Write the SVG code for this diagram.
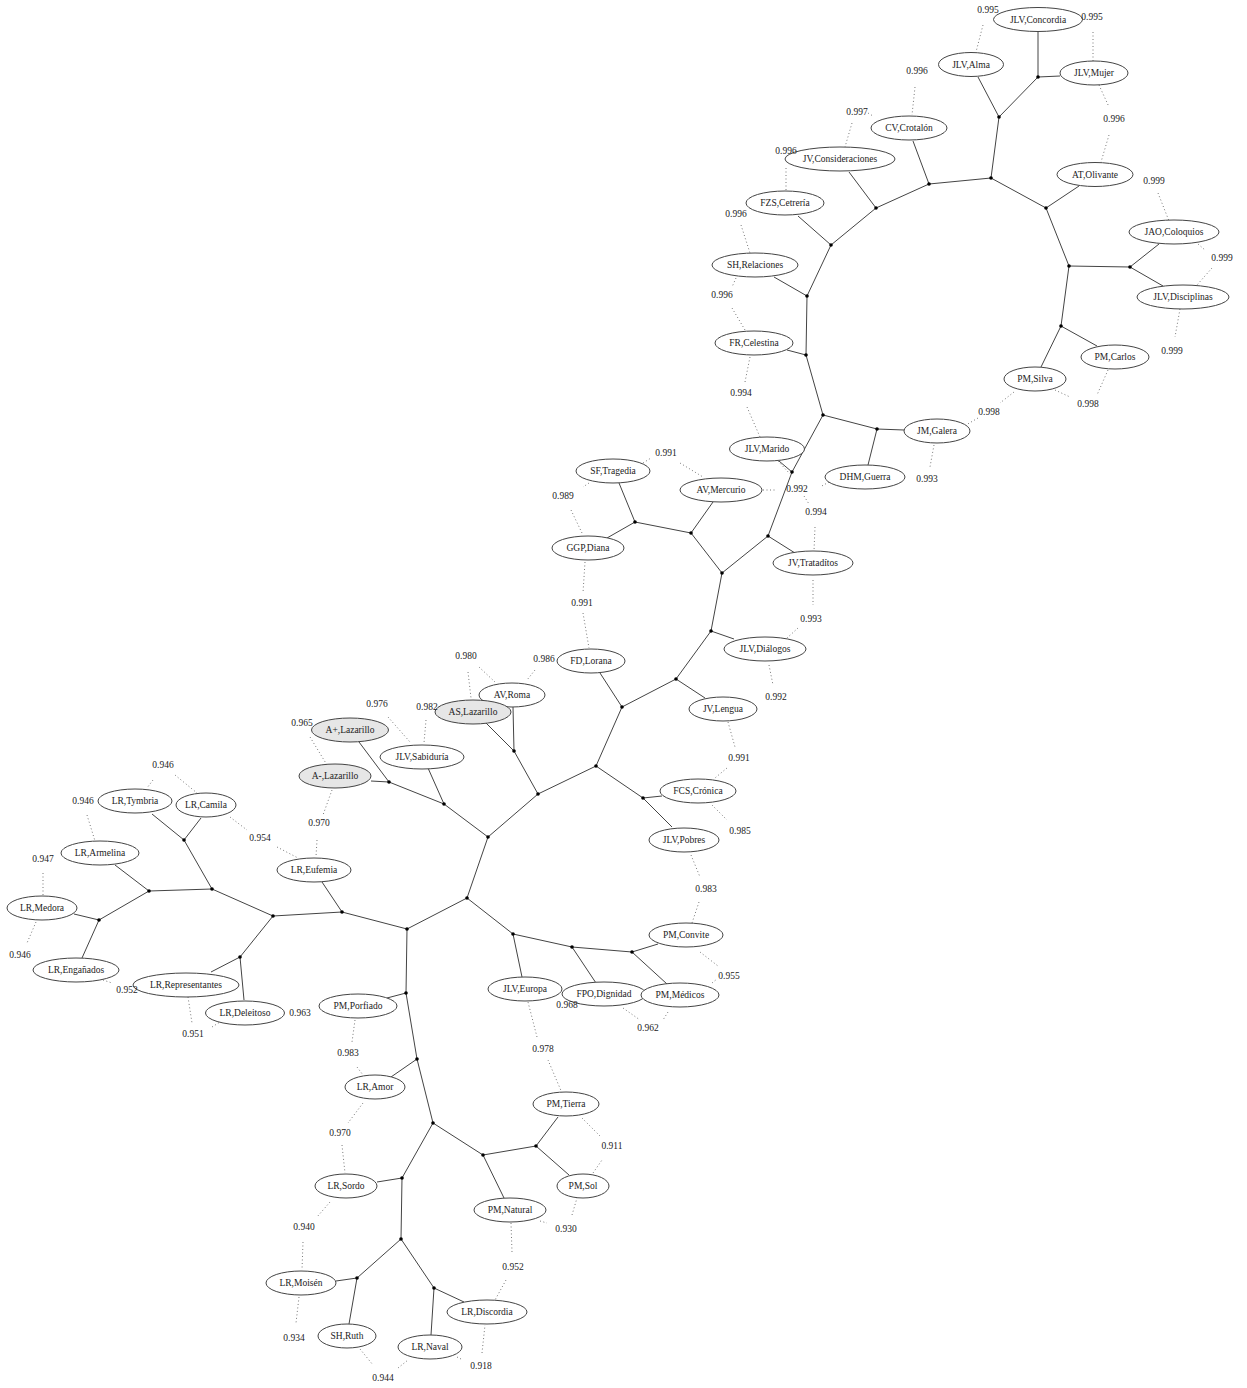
<svg xmlns="http://www.w3.org/2000/svg" width="1247" height="1388" viewBox="0 0 1247 1388">
<style>
.bg{fill:#fff}
.n ellipse{fill:#fff;stroke:#444;stroke-width:1}
.n.g ellipse{fill:#e6e6e6}
text{font-family:"Liberation Serif","Times New Roman",serif;font-size:9.5px;fill:#222;text-anchor:middle;dominant-baseline:central}
.e line{stroke:#444;stroke-width:1}
.e circle{fill:#000}
.d line{stroke:#777;stroke-width:1;stroke-dasharray:1 2.5}
</style>
<rect class="bg" x="0" y="0" width="1247" height="1388"/>
<g id="connectors">
<g class="e">
<line x1="1038" y1="32" x2="1038" y2="77"/><line x1="1060" y1="76" x2="1038" y2="77"/>
<line x1="978" y1="77" x2="999" y2="117"/><line x1="1038" y1="77" x2="999" y2="117"/>
<line x1="999" y1="117" x2="991" y2="178"/><line x1="991" y1="178" x2="929" y2="184"/>
<line x1="991" y1="178" x2="1046" y2="208"/><line x1="913" y1="141" x2="929" y2="184"/>
<line x1="1079" y1="186" x2="1046" y2="208"/><line x1="1046" y1="208" x2="1069" y2="266"/>
<line x1="1069" y1="266" x2="1130" y2="267"/><line x1="1130" y1="267" x2="1159" y2="244"/>
<line x1="1130" y1="267" x2="1163" y2="286"/><line x1="1069" y1="266" x2="1061" y2="326"/>
<line x1="1061" y1="326" x2="1097" y2="346"/><line x1="1061" y1="326" x2="1041" y2="367"/>
<line x1="929" y1="184" x2="876" y2="208"/><line x1="849" y1="172" x2="876" y2="208"/>
<line x1="876" y1="208" x2="831" y2="245"/><line x1="798" y1="216" x2="831" y2="245"/>
<line x1="831" y1="245" x2="807" y2="296"/><line x1="774" y1="277" x2="807" y2="296"/>
<line x1="807" y1="296" x2="806" y2="355"/><line x1="787" y1="350" x2="806" y2="355"/>
<line x1="806" y1="355" x2="823" y2="415"/><line x1="823" y1="415" x2="877" y2="429"/>
<line x1="877" y1="429" x2="904" y2="430"/><line x1="877" y1="429" x2="868" y2="465"/>
<line x1="823" y1="415" x2="792" y2="472"/><line x1="779" y1="461" x2="792" y2="472"/>
<line x1="792" y1="472" x2="768" y2="536"/><line x1="768" y1="536" x2="795" y2="553"/>
<line x1="768" y1="536" x2="722" y2="573"/><line x1="722" y1="573" x2="691" y2="533"/>
<line x1="713" y1="502" x2="691" y2="533"/><line x1="691" y1="533" x2="635" y2="522"/>
<line x1="619" y1="483" x2="635" y2="522"/><line x1="607" y1="538" x2="635" y2="522"/>
<line x1="722" y1="573" x2="711" y2="631"/><line x1="711" y1="631" x2="734" y2="639"/>
<line x1="711" y1="631" x2="676" y2="679"/><line x1="676" y1="679" x2="705" y2="698"/>
<line x1="676" y1="679" x2="622" y2="707"/><line x1="600" y1="673" x2="622" y2="707"/>
<line x1="622" y1="707" x2="596" y2="766"/><line x1="596" y1="766" x2="643" y2="798"/>
<line x1="643" y1="798" x2="662" y2="796"/><line x1="643" y1="798" x2="672" y2="827"/>
<line x1="596" y1="766" x2="538" y2="794"/><line x1="538" y1="794" x2="514" y2="751"/>
<line x1="486" y1="723" x2="514" y2="751"/><line x1="513" y1="707" x2="514" y2="751"/>
<line x1="538" y1="794" x2="488" y2="837"/><line x1="488" y1="837" x2="444" y2="804"/>
<line x1="428" y1="768" x2="444" y2="804"/><line x1="444" y1="804" x2="389" y2="782"/>
<line x1="359" y1="742" x2="389" y2="782"/><line x1="371" y1="781" x2="389" y2="782"/>
<line x1="488" y1="837" x2="467" y2="898"/><line x1="467" y1="898" x2="513" y2="934"/>
<line x1="513" y1="934" x2="522" y2="977"/><line x1="513" y1="934" x2="572" y2="947"/>
<line x1="572" y1="947" x2="596" y2="983"/><line x1="572" y1="947" x2="632" y2="952"/>
<line x1="632" y1="952" x2="658" y2="944"/><line x1="632" y1="952" x2="667" y2="984"/>
<line x1="467" y1="898" x2="407" y2="929"/><line x1="407" y1="929" x2="342" y2="912"/>
<line x1="322" y1="882" x2="342" y2="912"/><line x1="342" y1="912" x2="273" y2="916"/>
<line x1="273" y1="916" x2="212" y2="889"/><line x1="212" y1="889" x2="184" y2="840"/>
<line x1="152" y1="814" x2="184" y2="840"/><line x1="201" y1="818" x2="184" y2="840"/>
<line x1="212" y1="889" x2="149" y2="891"/><line x1="115" y1="865" x2="149" y2="891"/>
<line x1="149" y1="891" x2="99" y2="920"/><line x1="74" y1="914" x2="99" y2="920"/>
<line x1="82" y1="958" x2="99" y2="920"/><line x1="273" y1="916" x2="240" y2="957"/>
<line x1="211" y1="972" x2="240" y2="957"/><line x1="244" y1="1000" x2="240" y2="957"/>
<line x1="407" y1="929" x2="406" y2="993"/><line x1="387" y1="998" x2="406" y2="993"/>
<line x1="406" y1="993" x2="417" y2="1059"/><line x1="391" y1="1077" x2="417" y2="1059"/>
<line x1="417" y1="1059" x2="433" y2="1123"/><line x1="433" y1="1123" x2="483" y2="1155"/>
<line x1="483" y1="1155" x2="536" y2="1146"/><line x1="536" y1="1146" x2="558" y2="1117"/>
<line x1="536" y1="1146" x2="569" y2="1175"/><line x1="483" y1="1155" x2="504" y2="1198"/>
<line x1="433" y1="1123" x2="402" y2="1178"/><line x1="377" y1="1182" x2="402" y2="1178"/>
<line x1="402" y1="1178" x2="401" y2="1239"/><line x1="401" y1="1239" x2="357" y2="1278"/>
<line x1="336" y1="1281" x2="357" y2="1278"/><line x1="349" y1="1324" x2="357" y2="1278"/>
<line x1="401" y1="1239" x2="434" y2="1288"/><line x1="431" y1="1335" x2="434" y2="1288"/>
<line x1="464" y1="1302" x2="434" y2="1288"/>
<circle cx="1038" cy="77" r="1.8"/><circle cx="999" cy="117" r="1.8"/><circle cx="991" cy="178" r="1.8"/>
<circle cx="929" cy="184" r="1.8"/><circle cx="1046" cy="208" r="1.8"/><circle cx="1069" cy="266" r="1.8"/>
<circle cx="1130" cy="267" r="1.8"/><circle cx="1061" cy="326" r="1.8"/><circle cx="876" cy="208" r="1.8"/>
<circle cx="831" cy="245" r="1.8"/><circle cx="807" cy="296" r="1.8"/><circle cx="806" cy="355" r="1.8"/>
<circle cx="823" cy="415" r="1.8"/><circle cx="877" cy="429" r="1.8"/><circle cx="792" cy="472" r="1.8"/>
<circle cx="768" cy="536" r="1.8"/><circle cx="722" cy="573" r="1.8"/><circle cx="691" cy="533" r="1.8"/>
<circle cx="635" cy="522" r="1.8"/><circle cx="711" cy="631" r="1.8"/><circle cx="676" cy="679" r="1.8"/>
<circle cx="622" cy="707" r="1.8"/><circle cx="596" cy="766" r="1.8"/><circle cx="643" cy="798" r="1.8"/>
<circle cx="538" cy="794" r="1.8"/><circle cx="514" cy="751" r="1.8"/><circle cx="488" cy="837" r="1.8"/>
<circle cx="444" cy="804" r="1.8"/><circle cx="389" cy="782" r="1.8"/><circle cx="467" cy="898" r="1.8"/>
<circle cx="513" cy="934" r="1.8"/><circle cx="572" cy="947" r="1.8"/><circle cx="632" cy="952" r="1.8"/>
<circle cx="407" cy="929" r="1.8"/><circle cx="342" cy="912" r="1.8"/><circle cx="273" cy="916" r="1.8"/>
<circle cx="212" cy="889" r="1.8"/><circle cx="184" cy="840" r="1.8"/><circle cx="149" cy="891" r="1.8"/>
<circle cx="99" cy="920" r="1.8"/><circle cx="240" cy="957" r="1.8"/><circle cx="406" cy="993" r="1.8"/>
<circle cx="417" cy="1059" r="1.8"/><circle cx="433" cy="1123" r="1.8"/><circle cx="483" cy="1155" r="1.8"/>
<circle cx="536" cy="1146" r="1.8"/><circle cx="402" cy="1178" r="1.8"/><circle cx="401" cy="1239" r="1.8"/>
<circle cx="357" cy="1278" r="1.8"/><circle cx="434" cy="1288" r="1.8"/>
</g>
<g class="d">
<line x1="983" y1="25" x2="976" y2="52"/><line x1="1093" y1="32" x2="1093" y2="61"/>
<line x1="915" y1="87" x2="912" y2="115"/><line x1="1099" y1="85" x2="1109" y2="107"/>
<line x1="1109" y1="135" x2="1101" y2="162"/><line x1="1158" y1="193" x2="1169" y2="221"/>
<line x1="852" y1="123" x2="845" y2="147"/><line x1="868" y1="113" x2="873" y2="116"/>
<line x1="786" y1="168" x2="786" y2="192"/><line x1="741" y1="225" x2="750" y2="253"/>
<line x1="736" y1="278" x2="732" y2="287"/><line x1="732" y1="308" x2="745" y2="330"/>
<line x1="1198" y1="244" x2="1205" y2="250"/><line x1="1212" y1="268" x2="1197" y2="285"/>
<line x1="1180" y1="309" x2="1175" y2="337"/><line x1="1108" y1="370" x2="1097" y2="395"/>
<line x1="1055" y1="390" x2="1070" y2="397"/><line x1="1014" y1="392" x2="1000" y2="403"/>
<line x1="978" y1="418" x2="966" y2="425"/><line x1="750" y1="357" x2="745" y2="382"/>
<line x1="747" y1="407" x2="760" y2="437"/><line x1="934" y1="445" x2="930" y2="467"/>
<line x1="778" y1="461" x2="790" y2="474"/><line x1="763" y1="490" x2="775" y2="490"/>
<line x1="804" y1="496" x2="809" y2="504"/><line x1="829" y1="482" x2="820" y2="487"/>
<line x1="815" y1="527" x2="814" y2="551"/><line x1="643" y1="463" x2="651" y2="458"/>
<line x1="680" y1="463" x2="703" y2="477"/><line x1="589" y1="483" x2="583" y2="487"/>
<line x1="571" y1="510" x2="582" y2="533"/><line x1="585" y1="562" x2="583" y2="593"/>
<line x1="583" y1="613" x2="589" y2="648"/><line x1="813" y1="580" x2="813" y2="605"/>
<line x1="798" y1="628" x2="787" y2="638"/><line x1="769" y1="665" x2="773" y2="685"/>
<line x1="468" y1="672" x2="471" y2="698"/><line x1="479" y1="667" x2="495" y2="682"/>
<line x1="535" y1="670" x2="527" y2="680"/><line x1="426" y1="720" x2="424" y2="743"/>
<line x1="388" y1="717" x2="410" y2="742"/><line x1="310" y1="737" x2="327" y2="765"/>
<line x1="332" y1="790" x2="323" y2="815"/><line x1="317" y1="840" x2="316" y2="857"/>
<line x1="277" y1="847" x2="298" y2="858"/><line x1="230" y1="817" x2="247" y2="830"/>
<line x1="153" y1="780" x2="147" y2="788"/><line x1="175" y1="775" x2="197" y2="793"/>
<line x1="87" y1="815" x2="95" y2="841"/><line x1="43" y1="873" x2="43" y2="895"/>
<line x1="36" y1="922" x2="27" y2="943"/><line x1="103" y1="980" x2="112" y2="983"/>
<line x1="188" y1="997" x2="192" y2="1023"/><line x1="212" y1="1027" x2="220" y2="1022"/>
<line x1="355" y1="1020" x2="352" y2="1042"/><line x1="357" y1="1067" x2="363" y2="1075"/>
<line x1="363" y1="1103" x2="348" y2="1123"/><line x1="342" y1="1145" x2="345" y2="1173"/>
<line x1="330" y1="1202" x2="317" y2="1217"/><line x1="303" y1="1242" x2="302" y2="1270"/>
<line x1="299" y1="1297" x2="296" y2="1323"/><line x1="360" y1="1349" x2="373" y2="1365"/>
<line x1="398" y1="1368" x2="408" y2="1360"/><line x1="457" y1="1357" x2="463" y2="1360"/>
<line x1="482" y1="1353" x2="485" y2="1325"/><line x1="506" y1="1280" x2="495" y2="1300"/>
<line x1="511" y1="1223" x2="512" y2="1252"/><line x1="540" y1="1221" x2="547" y2="1223"/>
<line x1="572" y1="1215" x2="577" y2="1198"/><line x1="593" y1="1173" x2="602" y2="1160"/>
<line x1="600" y1="1136" x2="582" y2="1118"/><line x1="562" y1="1093" x2="548" y2="1060"/>
<line x1="537" y1="1037" x2="528" y2="1002"/><line x1="623" y1="1008" x2="640" y2="1020"/>
<line x1="668" y1="1012" x2="663" y2="1020"/><line x1="712" y1="983" x2="717" y2="979"/>
<line x1="700" y1="952" x2="718" y2="966"/><line x1="699" y1="902" x2="692" y2="923"/>
<line x1="691" y1="855" x2="700" y2="877"/><line x1="712" y1="805" x2="727" y2="820"/>
<line x1="728" y1="722" x2="735" y2="747"/><line x1="727" y1="768" x2="715" y2="778"/>
</g>
</g>
<g id="nodes">
<g class="n" id="concordia"><ellipse cx="1038" cy="19.5" rx="44.5" ry="12"/><text x="1038" y="19.5">JLV,Concordia</text></g>
<g class="n" id="alma"><ellipse cx="971" cy="64.5" rx="32.5" ry="12"/><text x="971" y="64.5">JLV,Alma</text></g>
<g class="n" id="mujer"><ellipse cx="1094" cy="73" rx="34" ry="12"/><text x="1094" y="73">JLV,Mujer</text></g>
<g class="n" id="crotalon"><ellipse cx="909" cy="128" rx="38" ry="12"/><text x="909" y="128">CV,Crotalón</text></g>
<g class="n" id="olivante"><ellipse cx="1095" cy="174.5" rx="38" ry="12"/><text x="1095" y="174.5">AT,Olivante</text></g>
<g class="n" id="consideraciones"><ellipse cx="840" cy="159" rx="55" ry="12"/><text x="840" y="159">JV,Consideraciones</text></g>
<g class="n" id="cetreria"><ellipse cx="785" cy="203" rx="39" ry="12"/><text x="785" y="203">FZS,Cetrería</text></g>
<g class="n" id="relaciones"><ellipse cx="755" cy="265" rx="43" ry="12"/><text x="755" y="265">SH,Relaciones</text></g>
<g class="n" id="celestina"><ellipse cx="754" cy="343" rx="39" ry="12"/><text x="754" y="343">FR,Celestina</text></g>
<g class="n" id="coloquios"><ellipse cx="1174" cy="232" rx="45" ry="12"/><text x="1174" y="232">JAO,Coloquios</text></g>
<g class="n" id="disciplinas"><ellipse cx="1183" cy="297" rx="46" ry="12"/><text x="1183" y="297">JLV,Disciplinas</text></g>
<g class="n" id="carlos"><ellipse cx="1115" cy="357" rx="34" ry="12"/><text x="1115" y="357">PM,Carlos</text></g>
<g class="n" id="silva"><ellipse cx="1035" cy="379" rx="31" ry="12"/><text x="1035" y="379">PM,Silva</text></g>
<g class="n" id="galera"><ellipse cx="937" cy="431" rx="33" ry="12"/><text x="937" y="431">JM,Galera</text></g>
<g class="n" id="marido"><ellipse cx="767" cy="449" rx="37.5" ry="12"/><text x="767" y="449">JLV,Marido</text></g>
<g class="n" id="guerra"><ellipse cx="865" cy="477" rx="40" ry="12"/><text x="865" y="477">DHM,Guerra</text></g>
<g class="n" id="mercurio"><ellipse cx="721" cy="490" rx="41" ry="12"/><text x="721" y="490">AV,Mercurio</text></g>
<g class="n" id="tragedia"><ellipse cx="613" cy="471" rx="37" ry="12"/><text x="613" y="471">SF,Tragedia</text></g>
<g class="n" id="diana"><ellipse cx="588" cy="548" rx="36" ry="12"/><text x="588" y="548">GGP,Diana</text></g>
<g class="n" id="tratadicos"><ellipse cx="813" cy="563" rx="40" ry="12"/><text x="813" y="563">JV,Tratadítos</text></g>
<g class="n" id="dialogos"><ellipse cx="765" cy="649" rx="41" ry="12"/><text x="765" y="649">JLV,Diálogos</text></g>
<g class="n" id="lorana"><ellipse cx="591" cy="661" rx="34" ry="12"/><text x="591" y="661">FD,Lorana</text></g>
<g class="n" id="lengua"><ellipse cx="723" cy="709" rx="34" ry="12"/><text x="723" y="709">JV,Lengua</text></g>
<g class="n" id="roma"><ellipse cx="512" cy="695" rx="33" ry="12"/><text x="512" y="695">AV,Roma</text></g>
<g class="n g" id="aslazarillo"><ellipse cx="473" cy="712" rx="38" ry="12"/><text x="473" y="712">AS,Lazarillo</text></g>
<g class="n g" id="apluslazarillo"><ellipse cx="350" cy="730" rx="38.5" ry="12"/><text x="350" y="730">A+,Lazarillo</text></g>
<g class="n" id="sabiduria"><ellipse cx="422" cy="757" rx="42" ry="12"/><text x="422" y="757">JLV,Sabiduría</text></g>
<g class="n g" id="aminuslazarillo"><ellipse cx="335" cy="776" rx="36" ry="12"/><text x="335" y="776">A-,Lazarillo</text></g>
<g class="n" id="eufemia"><ellipse cx="314" cy="870" rx="37" ry="12"/><text x="314" y="870">LR,Eufemia</text></g>
<g class="n" id="tymbria"><ellipse cx="135" cy="801" rx="37" ry="12"/><text x="135" y="801">LR,Tymbria</text></g>
<g class="n" id="camila"><ellipse cx="206" cy="805" rx="30" ry="12"/><text x="206" y="805">LR,Camila</text></g>
<g class="n" id="armelina"><ellipse cx="100" cy="853" rx="39" ry="12"/><text x="100" y="853">LR,Armelina</text></g>
<g class="n" id="medora"><ellipse cx="42" cy="908" rx="35" ry="12"/><text x="42" y="908">LR,Medora</text></g>
<g class="n" id="enganados"><ellipse cx="76" cy="970" rx="43" ry="12"/><text x="76" y="970">LR,Engañados</text></g>
<g class="n" id="representantes"><ellipse cx="186" cy="985" rx="53" ry="12"/><text x="186" y="985">LR,Representantes</text></g>
<g class="n" id="deleitoso"><ellipse cx="245" cy="1013" rx="39.5" ry="12"/><text x="245" y="1013">LR,Deleitoso</text></g>
<g class="n" id="porfiado"><ellipse cx="358" cy="1006" rx="39" ry="12"/><text x="358" y="1006">PM,Porfiado</text></g>
<g class="n" id="convite"><ellipse cx="686" cy="935" rx="37" ry="12"/><text x="686" y="935">PM,Convite</text></g>
<g class="n" id="europa"><ellipse cx="525" cy="989" rx="37" ry="12"/><text x="525" y="989">JLV,Europa</text></g>
<g class="n" id="dignidad"><ellipse cx="604" cy="994" rx="42" ry="12"/><text x="604" y="994">FPO,Dignidad</text></g>
<g class="n" id="medicos"><ellipse cx="680" cy="995" rx="39" ry="12"/><text x="680" y="995">PM,Médicos</text></g>
<g class="n" id="cronica"><ellipse cx="698" cy="791" rx="38" ry="12"/><text x="698" y="791">FCS,Crónica</text></g>
<g class="n" id="pobres"><ellipse cx="684" cy="840" rx="35" ry="12"/><text x="684" y="840">JLV,Pobres</text></g>
<g class="n" id="amor"><ellipse cx="375" cy="1087" rx="30" ry="12"/><text x="375" y="1087">LR,Amor</text></g>
<g class="n" id="sordo"><ellipse cx="346" cy="1186" rx="31" ry="12"/><text x="346" y="1186">LR,Sordo</text></g>
<g class="n" id="tierra"><ellipse cx="566" cy="1104" rx="33" ry="12"/><text x="566" y="1104">PM,Tierra</text></g>
<g class="n" id="sol"><ellipse cx="583" cy="1186" rx="26" ry="12"/><text x="583" y="1186">PM,Sol</text></g>
<g class="n" id="natural"><ellipse cx="510" cy="1210" rx="36" ry="12"/><text x="510" y="1210">PM,Natural</text></g>
<g class="n" id="moisen"><ellipse cx="301" cy="1283" rx="35" ry="12"/><text x="301" y="1283">LR,Moisén</text></g>
<g class="n" id="ruth"><ellipse cx="347" cy="1336" rx="29" ry="12"/><text x="347" y="1336">SH,Ruth</text></g>
<g class="n" id="naval"><ellipse cx="430" cy="1347" rx="32" ry="12"/><text x="430" y="1347">LR,Naval</text></g>
<g class="n" id="discordia"><ellipse cx="487" cy="1312" rx="40" ry="12"/><text x="487" y="1312">LR,Discordia</text></g>
</g>
<g id="labels">
<text x="988" y="10">0.995</text><text x="1092" y="17">0.995</text><text x="917" y="71">0.996</text>
<text x="1114" y="119">0.996</text><text x="1154" y="181">0.999</text><text x="857" y="112">0.997</text>
<text x="786" y="151">0.996</text><text x="736" y="214">0.996</text><text x="722" y="295">0.996</text>
<text x="1222" y="258">0.999</text><text x="1172" y="351">0.999</text><text x="1088" y="404">0.998</text>
<text x="989" y="412">0.998</text><text x="741" y="393">0.994</text><text x="927" y="479">0.993</text>
<text x="797" y="489">0.992</text><text x="816" y="512">0.994</text><text x="666" y="453">0.991</text>
<text x="563" y="496">0.989</text><text x="582" y="603">0.991</text><text x="811" y="619">0.993</text>
<text x="776" y="697">0.992</text><text x="544" y="659">0.986</text><text x="466" y="656">0.980</text>
<text x="427" y="707">0.982</text><text x="377" y="704">0.976</text><text x="302" y="723">0.965</text>
<text x="319" y="823">0.970</text><text x="163" y="765">0.946</text><text x="83" y="801">0.946</text>
<text x="43" y="859">0.947</text><text x="20" y="955">0.946</text><text x="260" y="838">0.954</text>
<text x="127" y="990">0.952</text><text x="193" y="1034">0.951</text><text x="300" y="1013">0.963</text>
<text x="739" y="758">0.991</text><text x="740" y="831">0.985</text><text x="706" y="889">0.983</text>
<text x="729" y="976">0.955</text><text x="567" y="1005">0.968</text><text x="648" y="1028">0.962</text>
<text x="348" y="1053">0.983</text><text x="340" y="1133">0.970</text><text x="543" y="1049">0.978</text>
<text x="612" y="1146">0.911</text><text x="566" y="1229">0.930</text><text x="304" y="1227">0.940</text>
<text x="513" y="1267">0.952</text><text x="294" y="1338">0.934</text><text x="383" y="1378">0.944</text>
<text x="481" y="1366">0.918</text>
</g>
</svg>
